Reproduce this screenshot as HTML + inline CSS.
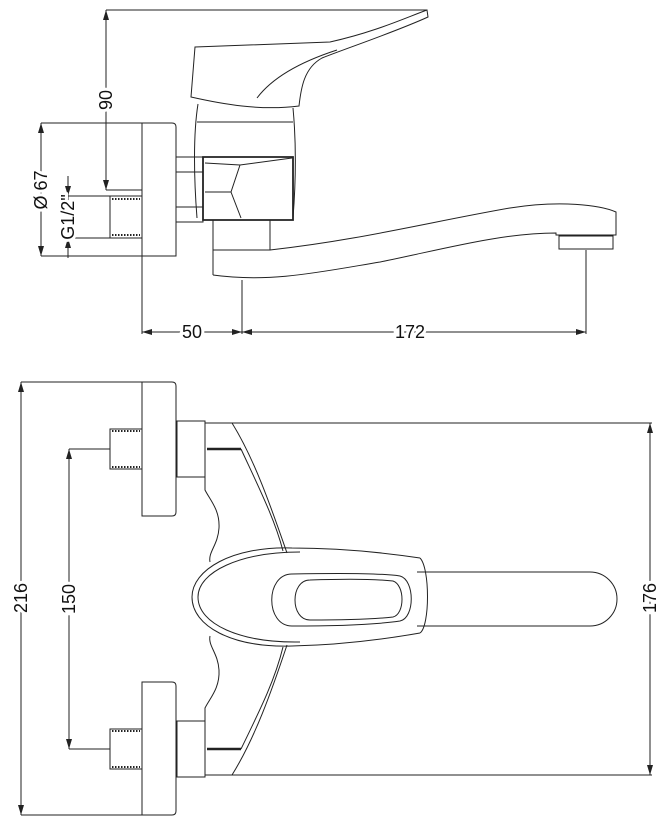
<!DOCTYPE html>
<html><head><meta charset="utf-8"><style>
html,body{margin:0;padding:0;background:#fff;}
svg{display:block;}
text{font-family:"Liberation Sans",sans-serif;font-size:18px;fill:#111;stroke:#fff;stroke-width:6px;paint-order:stroke;}
</style></head><body>
<svg width="672" height="821" viewBox="0 0 672 821" xmlns="http://www.w3.org/2000/svg">
<defs>
<marker id="a" viewBox="0 0 10 6" refX="10" refY="3" markerWidth="10" markerHeight="6" orient="auto-start-reverse" markerUnits="userSpaceOnUse"><path d="M0,0 L10,3 L0,6 Z" fill="#222"/></marker>
</defs>
<g fill="none" stroke="#222" stroke-width="1">
<!-- TOP VIEW -->
<line x1="106" y1="10" x2="427" y2="10"/>
<line x1="106" y1="10" x2="106" y2="190" marker-start="url(#a)" marker-end="url(#a)"/>
<line x1="106" y1="190" x2="142" y2="190"/>
<line x1="41" y1="123" x2="142" y2="123"/>
<line x1="41" y1="256" x2="142" y2="256"/>
<line x1="41" y1="123" x2="41" y2="256" marker-start="url(#a)" marker-end="url(#a)"/>
<line x1="68" y1="176" x2="68" y2="196" marker-end="url(#a)"/>
<line x1="68" y1="258" x2="68" y2="238" marker-end="url(#a)"/>
<line x1="68" y1="196" x2="110" y2="196"/>
<line x1="68" y1="238" x2="110" y2="238"/>
<line x1="68" y1="196" x2="68" y2="238"/>
<line x1="142" y1="256" x2="142" y2="334"/>
<line x1="242" y1="280" x2="242" y2="334"/>
<line x1="586" y1="250" x2="586" y2="334"/>
<line x1="142" y1="332" x2="242" y2="332" marker-start="url(#a)" marker-end="url(#a)"/>
<line x1="242" y1="332" x2="586" y2="332" marker-start="url(#a)" marker-end="url(#a)"/>
<path d="M195,47 L330,42 C375,32 405,18 427,10 L428,17 C395,32 350,47 322,58 C304,68 301,88 299,106 C260,111 222,104 191,97 Z"/>
<path d="M257,98 C272,78 300,62 337,50"/>
<path d="M198,104 C193,135 194,180 197,218"/>
<path d="M293,108 C296,140 296,180 293,218"/>
<line x1="197" y1="122" x2="293" y2="122"/>
<path d="M142,123 L172,123 Q176,123 176,127 L176,256 L142,256 Z"/>
<rect x="110" y="196" width="32" height="42"/>
<line x1="112" y1="199" x2="140" y2="199" stroke-dasharray="1.5 1.5" stroke-width="2"/>
<line x1="112" y1="235" x2="140" y2="235" stroke-dasharray="1.5 1.5" stroke-width="2"/>
<rect x="176" y="157" width="27" height="65"/>
<line x1="176" y1="172" x2="203" y2="172"/>
<line x1="176" y1="207" x2="203" y2="207"/>
<path d="M203,157 L293,157 L293,220 L203,220 Z" stroke-width="1.8"/>
<path d="M205,163 L240,165 L292,158 M240,165 L231,192 L241,218 M205,192 L231,192"/>
<path d="M213,220 L213,275 M270,220 L270,250 L213,250"/>
<path d="M270,250 C360,240 430,222 510,208 C560,200 600,205 616,212 L616,235 L556,235 L556,233 C500,233 440,250 380,262 C320,272 270,283 213,275"/>
<rect x="559" y="236" width="54" height="13"/>

<!-- BOTTOM VIEW -->
<line x1="21" y1="382" x2="142" y2="382"/>
<line x1="21" y1="815" x2="142" y2="815"/>
<line x1="21" y1="382" x2="21" y2="815" marker-start="url(#a)" marker-end="url(#a)"/>
<line x1="69" y1="449" x2="110" y2="449"/>
<line x1="69" y1="749" x2="110" y2="749"/>
<line x1="69" y1="449" x2="69" y2="749" marker-start="url(#a)" marker-end="url(#a)"/>
<line x1="232" y1="423" x2="652" y2="423"/>
<line x1="232" y1="775" x2="652" y2="775"/>
<line x1="650" y1="423" x2="650" y2="775" marker-start="url(#a)" marker-end="url(#a)"/>
<path d="M142,382 L172,382 Q176,382 176,386 L176,512 Q176,516 172,516 L142,516 Z"/>
<path d="M142,682 L172,682 Q176,682 176,686 L176,811 Q176,815 172,815 L142,815 Z"/>
<rect x="110" y="429" width="32" height="40"/>
<line x1="112" y1="431" x2="140" y2="431" stroke-dasharray="1.5 1.5" stroke-width="2"/>
<line x1="112" y1="467" x2="140" y2="467" stroke-dasharray="1.5 1.5" stroke-width="2"/>
<rect x="110" y="729" width="32" height="40"/>
<line x1="112" y1="731" x2="140" y2="731" stroke-dasharray="1.5 1.5" stroke-width="2"/>
<line x1="112" y1="767" x2="140" y2="767" stroke-dasharray="1.5 1.5" stroke-width="2"/>
<rect x="177" y="421" width="28" height="56"/>
<rect x="177" y="721" width="28" height="56"/>
<path d="M205,423 L232,423 C255,460 272,510 287,553"/>
<path d="M241,449 C260,490 275,520 283,551"/>
<line x1="207" y1="449" x2="241" y2="449" stroke-width="2.5"/>
<path d="M205,477 L205,490 C210,500 220,510 219,528 C218,545 208,552 210,562"/>
<path d="M205,775 L232,775 C255,738 272,690 287,645"/>
<path d="M241,749 C260,710 275,680 283,647"/>
<line x1="207" y1="749" x2="241" y2="749" stroke-width="2.5"/>
<path d="M205,721 L205,708 C210,698 220,688 219,670 C218,653 208,646 210,636"/>
<!-- lever -->
<path d="M420,558 C380,552 340,548 292,548 C232,546 192,570 192,597 C192,626 232,648 292,646 C340,645 380,640 420,633"/>
<path d="M300,552 C240,552 198,572 198,597 C198,624 240,643 300,642"/>
<path d="M420,558 C430,568 430,626 420,633"/>
<path d="M417,572 L590,572 A27,27 0 0 1 590,626 L417,626"/>
<path d="M292,574 C340,573 380,573 400,576 C415,580 415,618 400,621 C380,624 340,626 292,626 C265,626 265,574 292,574 Z"/>
<path d="M310,580 C340,579 375,579 393,581 C405,585 405,614 393,617 C375,619 340,620 310,620 C290,620 290,580 310,580 Z"/>
</g>
<g>
<text transform="translate(112,100) rotate(-90)" text-anchor="middle">90</text>
<text transform="translate(47,190) rotate(-90)" text-anchor="middle">Ø 67</text>
<text transform="translate(74,217) rotate(-90)" text-anchor="middle">G1/2"</text>
<text x="192" y="338" text-anchor="middle">50</text>
<text x="410" y="338" text-anchor="middle">172</text>
<text transform="translate(27,598) rotate(-90)" text-anchor="middle">216</text>
<text transform="translate(75,599) rotate(-90)" text-anchor="middle">150</text>
<text transform="translate(656,598) rotate(-90)" text-anchor="middle">176</text>
</g>
</svg>
</body></html>
